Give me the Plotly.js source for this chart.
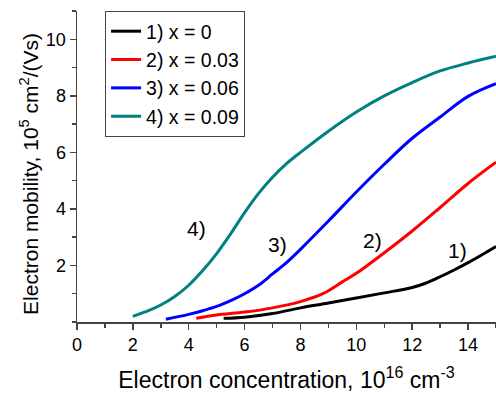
<!DOCTYPE html>
<html>
<head>
<meta charset="utf-8">
<script src="https://cdn.plot.ly/plotly-3.0.1.min.js"></script>
<style>html,body{margin:0;padding:0;background:#fff;}#chart{width:496px;height:393px;}</style>
</head>
<body>
<div id="chart"></div>
<script>
// Series data (x: electron concentration, 10^16 cm^-3; y: mobility, 10^5 cm^2/(Vs))
const x1 = [5.25, 6, 7, 8, 9, 10, 11, 12, 12.5, 13, 13.5, 14, 14.5, 15];
const y1 = [0.13, 0.17, 0.3, 0.5, 0.67, 0.85, 1.03, 1.22, 1.38, 1.6, 1.84, 2.1, 2.38, 2.67];

const x2 = [4.27, 5, 6, 7, 8, 8.8, 9.5, 10, 11, 12, 13, 14, 15];
const y2 = [0.13, 0.25, 0.35, 0.5, 0.72, 1.0, 1.42, 1.72, 2.45, 3.22, 4.05, 4.9, 5.65];

const x3 = [3.18, 4, 4.5, 5, 5.6, 6, 6.5, 7, 7.5, 8, 9, 10, 11, 12, 13, 14, 15];
const y3 = [0.1, 0.27, 0.4, 0.55, 0.8, 1.0, 1.3, 1.7, 2.1, 2.57, 3.57, 4.6, 5.58, 6.5, 7.25, 7.98, 8.43];

const x4 = [2, 2.6, 3, 3.5, 4, 4.5, 5, 5.5, 6, 6.5, 7, 7.5, 8, 9, 10, 11, 12, 13, 14, 15];
const y4 = [0.2, 0.42, 0.6, 0.9, 1.3, 1.82, 2.42, 3.12, 3.87, 4.55, 5.12, 5.6, 6.0, 6.75, 7.43, 8.0, 8.47, 8.88, 9.16, 9.4];

const names = ["1) x = 0", "2) x = 0.03", "3) x = 0.06", "4) x = 0.09"];
const colors = ["#000000", "#ff0000", "#0000ff", "#008080"];

const labels = ["1)", "2)", "3)", "4)"];
const labelX = [13.62, 10.58, 7.19, 4.29];
const labelY = [2.54, 2.87, 2.75, 3.29];

const xTicks = [0, 2, 4, 6, 8, 10, 12, 14];
const yTicks = [2, 4, 6, 8, 10];

const yTitle = "Electron mobility, 10<sup>5</sup> cm<sup>2</sup>/(Vs)";
const xTitle = "Electron concentration, 10<sup>16</sup> cm<sup>-3</sup>";

const xs = [x1, x2, x3, x4];
const ys = [y1, y2, y3, y4];

const traces = xs.map((xv, i) => ({
  x: xv, y: ys[i], name: names[i], type: "scatter", mode: "lines",
  line: {color: colors[i], width: 3, shape: "spline", smoothing: 1}
}));

const FONT = "Liberation Sans, Arial, sans-serif";

const annos = labels.map((t, i) => ({
  x: labelX[i], y: labelY[i], xref: "x", yref: "y", text: t, showarrow: false,
  font: {size: 21, family: FONT, color: "#000"}
}));
annos.push({
  x: -0.1146, y: 0.476, xref: "paper", yref: "paper", xanchor: "center", yanchor: "middle",
  text: yTitle, textangle: -90, showarrow: false,
  font: {size: 21, family: FONT, color: "#000"}
});

const layout = {
  width: 496, height: 393,
  margin: {l: 77, r: 0, t: 11, b: 71},
  paper_bgcolor: "#fff", plot_bgcolor: "#fff",
  font: {family: FONT, color: "#000", size: 18},
  showlegend: true,
  legend: {
    x: 0.067, y: 1, xanchor: "left", yanchor: "top",
    bgcolor: "#fff", bordercolor: "#444", borderwidth: 1,
    font: {size: 19.5, family: FONT}, tracegroupgap: 0
  },
  xaxis: {
    range: [0, 15], showgrid: false, zeroline: false,
    showline: true, linecolor: "#444", linewidth: 1.5,
    ticks: "outside", ticklen: 6, tickcolor: "#444", tickwidth: 1.5,
    tickvals: xTicks, ticktext: xTicks.map(String),
    tickfont: {size: 18}, ticklabelstandoff: 0,
    minor: {dtick: 1, tick0: 0, ticks: "outside", ticklen: 4, tickcolor: "#444", tickwidth: 1.5},
    title: {text: xTitle, font: {size: 23}, standoff: 18}
  },
  yaxis: {
    range: [0, 11], showgrid: false, zeroline: false,
    showline: true, linecolor: "#444", linewidth: 1.5,
    ticks: "outside", ticklen: 6, tickcolor: "#444", tickwidth: 1.5,
    tickvals: yTicks, ticktext: yTicks.map(String),
    tickfont: {size: 18}, ticklabelstandoff: 0,
    minor: {dtick: 1, tick0: 0, ticks: "outside", ticklen: 4, tickcolor: "#444", tickwidth: 1.5}
  },
  annotations: annos
};

Plotly.newPlot("chart", traces, layout, {displayModeBar: false, staticPlot: true});
</script>
</body>
</html>
